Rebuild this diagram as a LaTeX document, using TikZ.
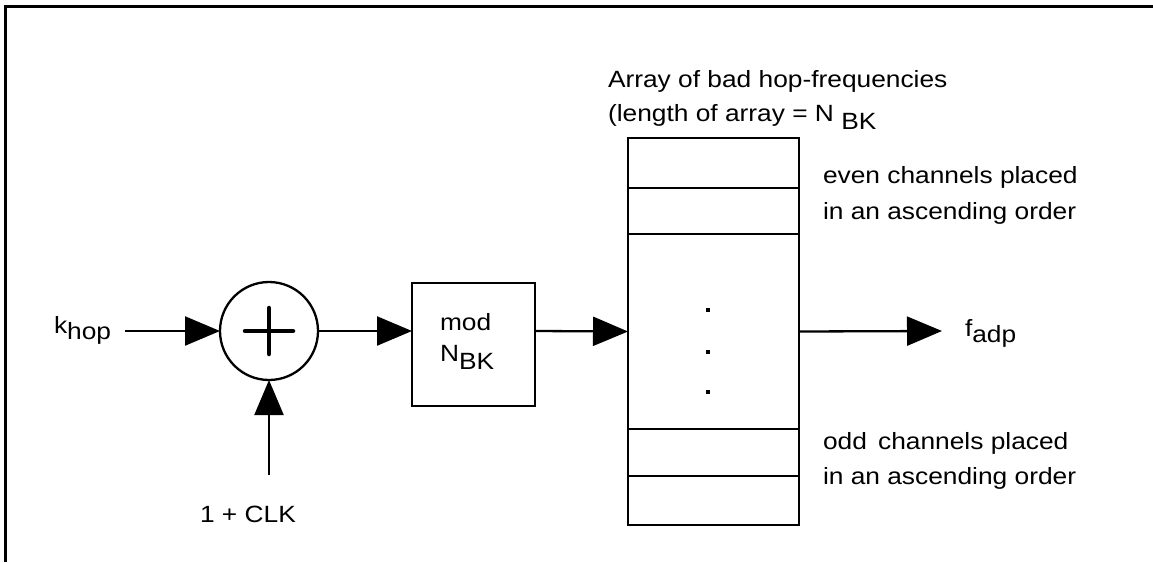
\documentclass[tikz,border=0pt]{standalone}
\usepackage{fontspec}
\setmainfont{Liberation Sans}[FakeStretch=1.12]
\usetikzlibrary{arrows.meta}
\begin{document}
\begin{tikzpicture}[x=1pt,y=-1pt,
  txt/.style={inner sep=0pt, outer sep=0pt, anchor=base west, font=\fontsize{23.5}{30}\selectfont},
  conn/.style={line width=2.3pt, -{Triangle[length=35pt,width=29pt]}},
  blk/.style={draw, line width=2.8pt, inner sep=0pt, outer sep=0pt},
  plus/.style={line width=4.5pt, line cap=round},
  dotsq/.style={fill=black, minimum size=4pt, inner sep=0pt, outer sep=0pt}
]
\useasboundingbox (0,0) rectangle (1153,562);
% frame
\draw[line width=3pt] (5,562) -- (5,6) -- (1153,6);

% summing junction
\node[draw, circle, line width=2.3pt, minimum size=98pt, inner sep=0pt, outer sep=0pt] (sum) at (269,331) {};
\draw[plus] (sum.center) ++(-24,0) -- ++(48,0);
\draw[plus] (sum.center) ++(0,-23) -- ++(0,46);

% mod box
\node[blk, minimum width=123pt, minimum height=123pt] (mod) at (473.5,344.5) {};
\node[txt] (modt) at (440,330) {mod};
\node[txt] (nbk) at (440,361) {N\raisebox{-8pt}{BK}};

% array
\node[blk, minimum width=171pt, minimum height=387pt] (arr) at (713.5,331.5) {};
\foreach \yy in {188,234,429,476}
  \draw[line width=2.8pt] (arr.west |- 0,\yy) -- (arr.east |- 0,\yy);
\node[dotsq] (d1) at (708,310) {};
\node[dotsq] (d2) at (708,352) {};
\node[dotsq] (d3) at (708,392) {};

% labels
\node[txt] (khop) at (54,333) {k\raisebox{-6pt}{hop}};
\node[txt] (fadp) at (965,336) {f\raisebox{-6pt}{adp}};
\node[txt] (clkt) at (200,522) {1 + CLK};
\node[txt] (t1) at (608,87) {Array of bad hop-frequencies};
\node[txt] (t2) at (608,121) {(length of array = N \raisebox{-8pt}{BK}};
\node[txt] (t3) at (823,183) {even channels placed};
\node[txt] (t4) at (823,219) {in an ascending order};
\node[txt] (t5) at (823,449) {odd\, channels placed};
\node[txt] (t6) at (823,484) {in an ascending order};

% connectors
\coordinate (in) at (125,331);
\coordinate (clk) at (269,475);
\coordinate (out) at (942,331);
\draw[conn] (in) -- (sum.west);
\draw[conn] (clk) -- (sum.south);
\draw[conn] (sum.east) -- (sum.east -| mod.west);
\draw[conn] (sum.east -| mod.east) -- (arr.west);
\draw[conn] (arr.east) -- (out);
\end{tikzpicture}
\end{document}
